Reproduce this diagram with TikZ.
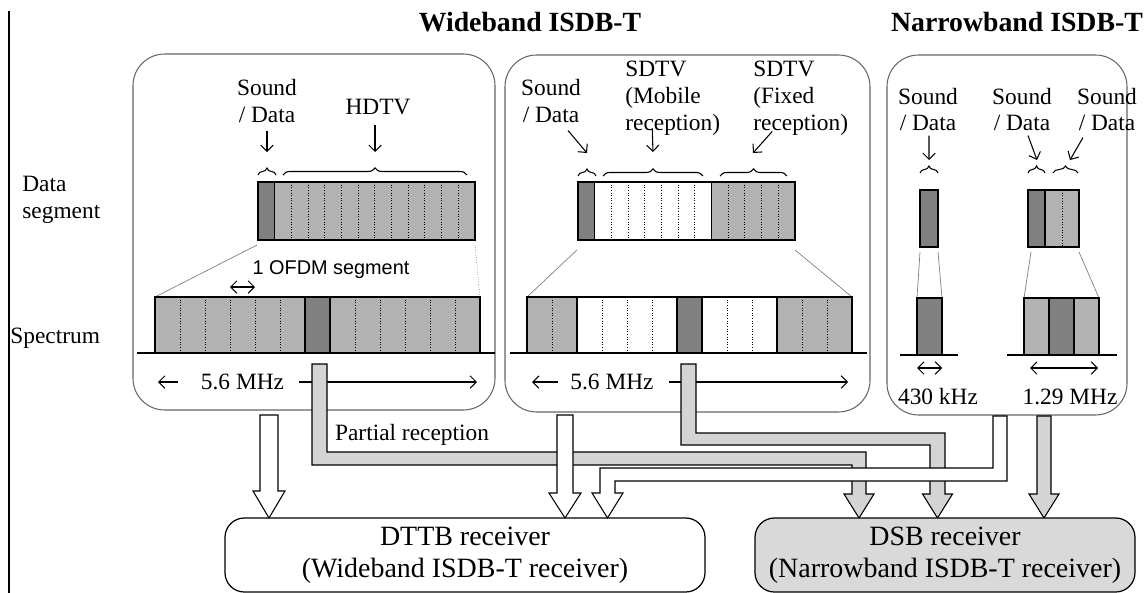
\documentclass[tikz,border=0pt]{standalone}
\usepackage{fontspec}
\setmainfont{Liberation Serif}
\setsansfont{Liberation Sans}
\usetikzlibrary{decorations.pathreplacing,arrows.meta}

\begin{document}
\begin{tikzpicture}[
  >={Straight Barb[length=3.5pt,width=7pt]},
  panel/.style={draw=black!60,line width=0.6pt,rounded corners=18pt},
  lseg/.style={draw,fill=black!30,line width=0.7pt},
  dseg/.style={draw,fill=black!50,line width=0.7pt},
  wseg/.style={draw,fill=white,line width=0.7pt},
  sep/.style={densely dotted,line width=0.5pt},
  zoomln/.style={black!50,line width=0.4pt},
  axis/.style={line width=0.7pt},
  txt/.style={font=\fontsize{13.3}{15.3}\selectfont,inner sep=0pt,align=center},
  hdr/.style={font=\fontsize{15.8}{18}\selectfont\bfseries,inner sep=0pt},
  brc/.style={decorate,decoration={brace,amplitude=4pt},line width=0.6pt},
  ptr/.style={->,line width=0.6pt},
  blkw/.style={draw,fill=white,line width=0.6pt},
  blkg/.style={draw,fill=black!17,line width=0.6pt},
  rcv/.style={draw,line width=0.7pt,rounded corners=11pt,minimum height=1.48cm,
    font=\fontsize{15.9}{18.2}\selectfont,align=center,inner sep=0pt}
]
\useasboundingbox (0,0) rectangle (22.94,-11.86);
\draw[line width=1.1pt] (0.18,-0.22) -- (0.18,-11.86);

\node[hdr] (wide) at (10.60,-0.44) {Wideband ISDB-T};
\node[hdr] (narrow) at (20.34,-0.44) {Narrowband ISDB-T};
\node[txt,anchor=west,align=left] (seglbl) at (0.44,-4.00) {Data\\segment};
\node[txt,anchor=west] (speclbl) at (0.20,-6.76) {Spectrum};

\draw[panel] (2.66,-1.08) rectangle (9.90,-8.20);
\draw[panel] (10.10,-1.10) rectangle (17.40,-8.24);
\draw[panel] (17.74,-1.10) rectangle (22.54,-8.30);

% wideband, HDTV
\draw[zoomln] (5.14,-4.90) -- (3.10,-5.94);
\draw[zoomln,densely dotted] (9.50,-4.90) -- (9.60,-5.94);
\draw[lseg] (5.494,-3.64) rectangle (9.500,-4.80);
\draw[dseg] (5.160,-3.64) rectangle (5.494,-4.80);
\draw[sep] (5.828,-3.64) -- (5.828,-4.80) (6.161,-3.64) -- (6.161,-4.80) (6.495,-3.64) -- (6.495,-4.80)
  (6.829,-3.64) -- (6.829,-4.80) (7.163,-3.64) -- (7.163,-4.80) (7.497,-3.64) -- (7.497,-4.80)
  (7.830,-3.64) -- (7.830,-4.80) (8.164,-3.64) -- (8.164,-4.80) (8.498,-3.64) -- (8.498,-4.80)
  (8.832,-3.64) -- (8.832,-4.80) (9.166,-3.64) -- (9.166,-4.80);
\draw[axis] (2.74,-7.06) -- (9.90,-7.06);
\draw[lseg] (3.10,-5.94) rectangle (6.10,-7.06);
\draw[dseg] (6.10,-5.94) rectangle (6.60,-7.06);
\draw[lseg] (6.60,-5.94) rectangle (9.60,-7.06);
\draw[sep] (3.60,-5.94) -- (3.60,-7.06) (4.10,-5.94) -- (4.10,-7.06) (4.60,-5.94) -- (4.60,-7.06)
  (5.10,-5.94) -- (5.10,-7.06) (5.60,-5.94) -- (5.60,-7.06) (7.10,-5.94) -- (7.10,-7.06)
  (7.60,-5.94) -- (7.60,-7.06) (8.10,-5.94) -- (8.10,-7.06) (8.60,-5.94) -- (8.60,-7.06)
  (9.10,-5.94) -- (9.10,-7.06);
\draw[brc] (5.16,-3.50) -- (5.52,-3.50);
\draw[brc] (5.66,-3.50) -- (9.34,-3.50);
\node[txt] (snd1) at (5.34,-2.02) {Sound\\/ Data};
\node[txt] (hdtv) at (7.56,-2.14) {HDTV};
\coordinate (t1) at (5.34,-3.04);
\coordinate (t2) at (7.50,-3.04);
\draw[ptr] ([yshift=-0.15cm]snd1.south) -- (t1);
\draw[ptr] ([xshift=-0.06cm,yshift=-0.2cm]hdtv.south) -- (t2);
\node[font=\sffamily\fontsize{11.3}{13}\selectfont,inner sep=0pt] (ofdm) at (6.62,-5.40) {1 OFDM segment};
\draw[<->,line width=0.6pt] (4.60,-5.74) -- (5.10,-5.74);
\node[txt] (mhz1) at (4.85,-7.64) {5.6 MHz};
\draw[ptr] ([xshift=-0.46cm]mhz1.west) -- (3.16,-7.64);
\draw[ptr] ([xshift=0.30cm]mhz1.east) -- (9.54,-7.64);

% wideband, SDTV
\draw[zoomln] (11.54,-5.00) -- (10.54,-5.94);
\draw[zoomln] (15.90,-5.00) -- (17.04,-5.94);
\draw[wseg] (11.894,-3.64) rectangle (14.231,-4.80);
\draw[lseg] (14.231,-3.64) rectangle (15.900,-4.80);
\draw[dseg] (11.560,-3.64) rectangle (11.894,-4.80);
\draw[sep] (12.228,-3.64) -- (12.228,-4.80) (12.562,-3.64) -- (12.562,-4.80) (12.895,-3.64) -- (12.895,-4.80)
  (13.229,-3.64) -- (13.229,-4.80) (13.563,-3.64) -- (13.563,-4.80) (13.897,-3.64) -- (13.897,-4.80)
  (14.565,-3.64) -- (14.565,-4.80) (14.898,-3.64) -- (14.898,-4.80) (15.232,-3.64) -- (15.232,-4.80)
  (15.566,-3.64) -- (15.566,-4.80);
\draw[axis] (10.20,-7.06) -- (17.34,-7.06);
\draw[lseg] (10.54,-5.94) rectangle (11.54,-7.06);
\draw[wseg] (11.54,-5.94) rectangle (13.54,-7.06);
\draw[dseg] (13.54,-5.94) rectangle (14.04,-7.06);
\draw[wseg] (14.04,-5.94) rectangle (15.54,-7.06);
\draw[lseg] (15.54,-5.94) rectangle (17.04,-7.06);
\draw[sep] (11.04,-5.94) -- (11.04,-7.06) (12.04,-5.94) -- (12.04,-7.06) (12.54,-5.94) -- (12.54,-7.06)
  (13.04,-5.94) -- (13.04,-7.06) (14.54,-5.94) -- (14.54,-7.06) (15.04,-5.94) -- (15.04,-7.06)
  (16.04,-5.94) -- (16.04,-7.06) (16.54,-5.94) -- (16.54,-7.06);
\draw[brc] (11.56,-3.52) -- (11.92,-3.52);
\draw[brc] (12.06,-3.52) -- (14.06,-3.52);
\draw[brc] (14.40,-3.52) -- (15.74,-3.52);
\node[txt] (snd2) at (11.02,-2.02) {Sound\\/ Data};
\node[txt,anchor=west,align=left] (mobile) at (12.50,-1.96) {SDTV\\(Mobile\\reception)};
\node[txt,anchor=west,align=left] (fixed) at (15.06,-1.96) {SDTV\\(Fixed\\reception)};
\coordinate (t3) at (11.74,-3.06);
\coordinate (t4) at (13.06,-3.04);
\coordinate (t5) at (15.06,-3.06);
\draw[ptr] ([xshift=0.34cm,yshift=-0.15cm]snd2.south) -- (t3);
\draw[ptr] ([xshift=-0.41cm,yshift=0.14cm]mobile.south) -- (t4);
\draw[ptr] ([xshift=-0.57cm,yshift=0.08cm]fixed.south) -- (t5);
\node[txt] (mhz2) at (12.24,-7.64) {5.6 MHz};
\draw[ptr] ([xshift=-0.24cm]mhz2.west) -- (10.64,-7.64);
\draw[ptr] ([xshift=0.30cm]mhz2.east) -- (16.96,-7.64);

% narrowband
\draw[zoomln] (18.40,-5.04) -- (18.34,-5.96);
\draw[zoomln] (18.76,-5.04) -- (18.84,-5.96);
\draw[zoomln] (20.62,-5.04) -- (20.48,-5.96);
\draw[zoomln] (21.58,-5.04) -- (21.98,-5.96);
\draw[dseg] (18.40,-3.80) rectangle (18.76,-4.94);
\draw[lseg] (20.90,-3.80) rectangle (21.58,-4.94);
\draw[dseg] (20.56,-3.80) rectangle (20.90,-4.94);
\draw[sep] (21.24,-3.80) -- (21.24,-4.94);
\draw[axis] (18.00,-7.10) -- (19.16,-7.10);
\draw[axis] (20.14,-7.10) -- (22.34,-7.10);
\draw[dseg] (18.34,-5.96) rectangle (18.84,-7.10);
\draw[lseg] (20.48,-5.96) rectangle (20.98,-7.10);
\draw[dseg] (20.98,-5.96) rectangle (21.48,-7.10);
\draw[lseg] (21.48,-5.96) rectangle (21.98,-7.10);
\draw[brc] (18.40,-3.46) -- (18.76,-3.46);
\draw[brc] (20.56,-3.46) -- (20.90,-3.46);
\draw[brc] (21.06,-3.46) -- (21.56,-3.46);
\node[txt] (snd3) at (18.56,-2.19) {Sound\\/ Data};
\node[txt] (snd4) at (20.44,-2.19) {Sound\\/ Data};
\node[txt] (snd5) at (22.14,-2.19) {Sound\\/ Data};
\coordinate (t6) at (18.58,-3.20);
\coordinate (t7) at (20.74,-3.20);
\coordinate (t8) at (21.40,-3.20);
\draw[ptr] ([xshift=0.02cm,yshift=-0.08cm]snd3.south) -- (t6);
\draw[ptr] ([xshift=0.12cm,yshift=-0.08cm]snd4.south) -- (t7);
\draw[ptr] ([xshift=-0.48cm,yshift=-0.12cm]snd5.south) -- (t8);
\draw[<->,line width=0.6pt] (18.34,-7.36) -- (18.84,-7.36);
\draw[<->,line width=0.6pt] (20.60,-7.36) -- (21.96,-7.36);
\node[txt] (khz) at (18.76,-7.94) {430 kHz};
\node[txt] (mhz3) at (21.40,-7.94) {1.29 MHz};

% feeds to the receivers
\draw[blkg] (6.24,-7.28) -- (6.24,-9.30) -- (17.04,-9.30) -- (17.04,-9.88) -- (16.88,-9.88) -- (17.18,-10.36)
  -- (17.48,-9.88) -- (17.32,-9.88) -- (17.32,-9.04) -- (6.54,-9.04) -- (6.54,-7.28) -- cycle;
\draw[blkg] (13.62,-7.28) -- (13.62,-8.90) -- (18.60,-8.90) -- (18.60,-9.88) -- (18.45,-9.88) -- (18.75,-10.36)
  -- (19.05,-9.88) -- (18.90,-9.88) -- (18.90,-8.66) -- (13.92,-8.66) -- (13.92,-7.28) -- cycle;
\draw[blkw] (5.20,-8.30) -- (5.20,-9.82) -- (5.06,-9.82) -- (5.38,-10.36) -- (5.70,-9.82) -- (5.56,-9.82)
  -- (5.56,-8.30) -- cycle;
\draw[blkw] (11.14,-8.30) -- (11.14,-9.86) -- (10.98,-9.86) -- (11.30,-10.36) -- (11.62,-9.86) -- (11.46,-9.86)
  -- (11.46,-8.30) -- cycle;
\draw[blkw] (19.86,-8.32) -- (19.86,-9.36) -- (12.00,-9.36) -- (12.00,-9.86) -- (11.84,-9.86) -- (12.15,-10.36)
  -- (12.46,-9.86) -- (12.30,-9.86) -- (12.30,-9.62) -- (20.14,-9.62) -- (20.14,-8.32) -- cycle;
\draw[blkg] (20.74,-8.32) -- (20.74,-9.88) -- (20.58,-9.88) -- (20.88,-10.36) -- (21.18,-9.88) -- (21.02,-9.88)
  -- (21.02,-8.32) -- cycle;
\node[txt] (partial) at (8.24,-8.70) {Partial reception};

\node[rcv,minimum width=9.6cm] (dttb) at (9.30,-11.10) {DTTB receiver\\(Wideband ISDB-T receiver)};
\node[rcv,fill=black!15,minimum width=7.6cm] (dsb) at (18.90,-11.10) {DSB receiver\\(Narrowband ISDB-T receiver)};
\end{tikzpicture}
\end{document}
